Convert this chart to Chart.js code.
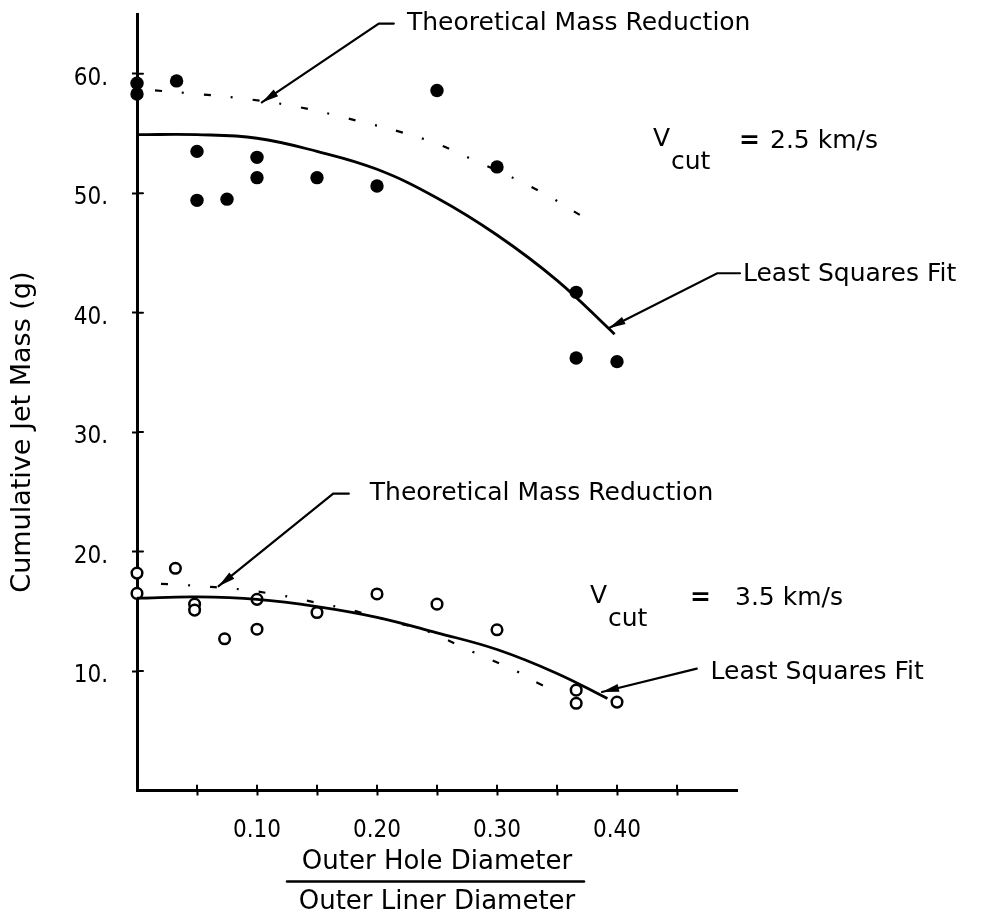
<!DOCTYPE html>
<html>
<head>
<meta charset="utf-8">
<title>Cumulative Jet Mass</title>
<script src="https://cdn.jsdelivr.net/npm/chart.js@4.4.1/dist/chart.umd.min.js"></script>
<style>
  html, body { margin: 0; padding: 0; background: #fff; }
  canvas { display: block; }
</style>
</head>
<body>
<canvas id="massChart" width="996" height="915"></canvas>
<script>
// V_cut = 2.5 km/s : measured shots, least squares fit, theoretical reduction
const fastHoleRatio = [0, 0, 0.033, 0.05, 0.05, 0.075, 0.10, 0.10, 0.15, 0.20, 0.25, 0.30, 0.366, 0.366, 0.40];
const fastMass = [59.2, 58.3, 59.4, 53.5, 49.4, 49.5, 53.0, 51.3, 51.3, 50.6, 58.6, 52.2, 41.7, 36.2, 35.9];
const fastFitRatio = [0, 0.05, 0.10, 0.15, 0.20, 0.25, 0.30, 0.35, 0.398];
const fastFitMass = [54.9, 54.9, 54.6, 53.5, 52.0, 49.6, 46.5, 42.7, 38.2];
const fastTheoryRatio = [0.015, 0.04, 0.09, 0.13, 0.17, 0.24, 0.28, 0.335, 0.372];
const fastTheoryMass = [58.6, 58.4, 57.9, 57.3, 56.4, 54.5, 52.8, 50.2, 48.0];

// V_cut = 3.5 km/s
const slowHoleRatio = [0, 0, 0.032, 0.048, 0.048, 0.073, 0.10, 0.10, 0.15, 0.20, 0.25, 0.30, 0.366, 0.366, 0.40];
const slowMass = [18.2, 16.5, 18.6, 15.6, 15.1, 12.7, 16.0, 13.5, 14.9, 16.45, 15.6, 13.45, 8.4, 7.3, 7.4];
const slowFitRatio = [0, 0.05, 0.10, 0.15, 0.20, 0.25, 0.30, 0.35, 0.392];
const slowFitMass = [16.1, 16.2, 16.0, 15.4, 14.5, 13.2, 11.8, 9.8, 7.7];
const slowTheoryRatio = [0.02, 0.04, 0.09, 0.11, 0.13, 0.155, 0.175, 0.22, 0.24, 0.28, 0.296, 0.318, 0.334, 0.345];
const slowTheoryMass = [17.3, 17.2, 16.8, 16.5, 16.15, 15.6, 15.2, 13.95, 13.4, 11.6, 10.9, 9.9, 9.0, 8.5];

// axis ticks
const xTicks = [0.05, 0.10, 0.15, 0.20, 0.25, 0.30, 0.35, 0.40, 0.45];
const xTickLabels = ['', '0.10', '', '0.20', '', '0.30', '', '0.40', ''];
const yTicks = [10, 20, 30, 40, 50, 60];
const yTickLabels = ['10.', '20.', '30.', '40.', '50.', '60.'];

const pts = (xs, ys) => xs.map((x, i) => ({ x: x, y: ys[i] }));

const INK = '#000';
const FAMILY = '"DejaVu Sans", sans-serif';
const LABEL_FONT = '25px ' + FAMILY;
const TICK_FONT = { family: '"DejaVu Sans Condensed", "DejaVu Sans", sans-serif', size: 24 };

// callouts, anchored in data units: leader runs from the text to the arrow tip
const callouts = [
    { text: 'Theoretical Mass Reduction', at: [0.225, 64.2], path: [[0.214, 64.2], [0.2015, 64.2], [0.104, 57.6]] },
    { text: 'Least Squares Fit', at: [0.505, 43.2], path: [[0.5025, 43.3], [0.4835, 43.3], [0.393, 38.7]] },
    { text: 'Theoretical Mass Reduction', at: [0.194, 24.85], path: [[0.1765, 24.85], [0.1635, 24.85], [0.068, 17.1]] },
    { text: 'Least Squares Fit', at: [0.478, 9.9], path: [[0.4665, 10.2], [0.3875, 8.25]] }
];
// cut velocity labels: offsets (px) of the "=" sign and the value from the V
const cutLabels = [
    { value: '2.5 km/s', at: [0.43, 54.5], eq: 86, val: 117 },
    { value: '3.5 km/s', at: [0.3775, 16.2], eq: 100, val: 145 }
];

function arrowHead(ctx, x0, y0, x1, y1) {
    const a = Math.atan2(y1 - y0, x1 - x0);
    const len = 17, half = 4;
    ctx.beginPath();
    ctx.moveTo(x1, y1);
    ctx.lineTo(x1 - len * Math.cos(a) + half * Math.sin(a), y1 - len * Math.sin(a) - half * Math.cos(a));
    ctx.lineTo(x1 - len * Math.cos(a) - half * Math.sin(a), y1 - len * Math.sin(a) + half * Math.cos(a));
    ctx.closePath();
    ctx.fill();
}

const decorations = {
    id: 'decorations',
    afterDraw(chart) {
        const ctx = chart.ctx;
        const xs = chart.scales.x, ys = chart.scales.y;
        const px = v => xs.getPixelForValue(v);
        const py = v => ys.getPixelForValue(v);
        const area = chart.chartArea;

        ctx.save();
        ctx.strokeStyle = INK;
        ctx.fillStyle = INK;
        ctx.lineCap = 'round';

        // inner half of the crossing tick marks
        ctx.lineWidth = 2;
        ctx.beginPath();
        xTicks.forEach(v => { ctx.moveTo(px(v), area.bottom); ctx.lineTo(px(v), area.bottom - 5); });
        yTicks.forEach(v => { ctx.moveTo(area.left, py(v)); ctx.lineTo(area.left + 6, py(v)); });
        ctx.stroke();

        ctx.font = LABEL_FONT;
        ctx.textBaseline = 'middle';
        ctx.textAlign = 'left';

        // callout text with leader and arrow
        callouts.forEach(c => {
            ctx.fillText(c.text, px(c.at[0]), py(c.at[1]));
            const p = c.path.map(q => [px(q[0]), py(q[1])]);
            ctx.lineWidth = 2.2;
            ctx.beginPath();
            ctx.moveTo(p[0][0], p[0][1]);
            for (let i = 1; i < p.length; i++) ctx.lineTo(p[i][0], p[i][1]);
            ctx.stroke();
            const n = p.length;
            arrowHead(ctx, p[n - 2][0], p[n - 2][1], p[n - 1][0], p[n - 1][1]);
        });

        // V_cut labels
        cutLabels.forEach(c => {
            const x = px(c.at[0]), y = py(c.at[1]);
            ctx.fillText('V', x, y);
            ctx.fillText('cut', x + 18, y + 23);
            ctx.font = 'bold 25px ' + FAMILY;
            ctx.fillText('=', x + c.eq, y + 2);
            ctx.font = LABEL_FONT;
            ctx.fillText(c.value, x + c.val, y + 2);
        });

        // y axis title
        ctx.save();
        ctx.font = '27px ' + FAMILY;
        ctx.translate(area.left - 114, py(30));
        ctx.rotate(-Math.PI / 2);
        ctx.textAlign = 'center';
        ctx.fillText('Cumulative Jet Mass (g)', 0, 0);
        ctx.restore();

        // x axis title written as a ratio
        const cx = px(0.25);
        ctx.font = '26px ' + FAMILY;
        ctx.textAlign = 'center';
        ctx.fillText('Outer Hole Diameter', cx, area.bottom + 72);
        ctx.fillText('Outer Liner Diameter', cx, area.bottom + 112);
        ctx.lineWidth = 2.5;
        ctx.beginPath();
        ctx.moveTo(cx - 150, area.bottom + 91);
        ctx.lineTo(cx + 147, area.bottom + 91);
        ctx.stroke();

        ctx.restore();
    }
};

const ctx = document.getElementById('massChart');
new Chart(ctx, {
    type: 'scatter',
    data: {
        datasets: [
            {
                label: 'Theoretical 2.5 km/s',
                data: pts(fastTheoryRatio, fastTheoryMass),
                showLine: true, borderColor: INK, borderWidth: 2.2,
                borderDash: [7, 20, 2, 20], pointRadius: 0, tension: 0.4
            },
            {
                label: 'Fit 2.5 km/s',
                data: pts(fastFitRatio, fastFitMass),
                showLine: true, borderColor: INK, borderWidth: 2.8,
                pointRadius: 0, tension: 0.4
            },
            {
                label: 'Theoretical 3.5 km/s',
                data: pts(slowTheoryRatio, slowTheoryMass),
                showLine: true, borderColor: INK, borderWidth: 2.2,
                borderDash: [7, 20, 2, 20], pointRadius: 0, tension: 0.4
            },
            {
                label: 'Fit 3.5 km/s',
                data: pts(slowFitRatio, slowFitMass),
                showLine: true, borderColor: INK, borderWidth: 2.8,
                pointRadius: 0, tension: 0.4
            },
            {
                label: 'Measured 2.5 km/s',
                data: pts(fastHoleRatio, fastMass),
                clip: false,
                pointRadius: 6.7, pointBackgroundColor: INK, pointBorderWidth: 0
            },
            {
                label: 'Measured 3.5 km/s',
                data: pts(slowHoleRatio, slowMass),
                clip: false,
                pointRadius: 5.3, pointBackgroundColor: '#fff', pointBorderColor: INK, pointBorderWidth: 2.5
            }
        ]
    },
    options: {
        responsive: false,
        animation: false,
        layout: { padding: { left: 0, top: 14, right: 259, bottom: 0 } },
        plugins: {
            legend: { display: false },
            tooltip: { enabled: false }
        },
        scales: {
            x: {
                type: 'linear', min: 0, max: 0.5,
                afterFit: scale => {
                    scale.height = 124.5;
                    scale.paddingLeft = 0;
                    scale.paddingRight = 0;
                },
                afterBuildTicks: scale => { scale.ticks = xTicks.map(v => ({ value: v })); },
                border: { display: true, color: INK, width: 3 },
                grid: { drawOnChartArea: false, drawTicks: true, tickLength: 5, tickWidth: 2, color: INK },
                ticks: {
                    padding: 21, color: INK, font: TICK_FONT,
                    maxRotation: 0, autoSkip: false,
                    callback: (v, i) => xTickLabels[i]
                }
            },
            y: {
                type: 'linear', min: 0, max: 65,
                afterFit: scale => {
                    scale.width = 137;
                    scale.paddingTop = 0;
                    scale.paddingBottom = 0;
                },
                afterBuildTicks: scale => { scale.ticks = yTicks.map(v => ({ value: v })); },
                border: { display: true, color: INK, width: 3 },
                grid: { drawOnChartArea: false, drawTicks: true, tickLength: 5, tickWidth: 2, color: INK },
                ticks: {
                    padding: 24, color: INK, font: TICK_FONT,
                    labelOffset: 5, autoSkip: false,
                    callback: (v, i) => yTickLabels[i]
                }
            }
        }
    },
    plugins: [decorations]
});
</script>
</body>
</html>
